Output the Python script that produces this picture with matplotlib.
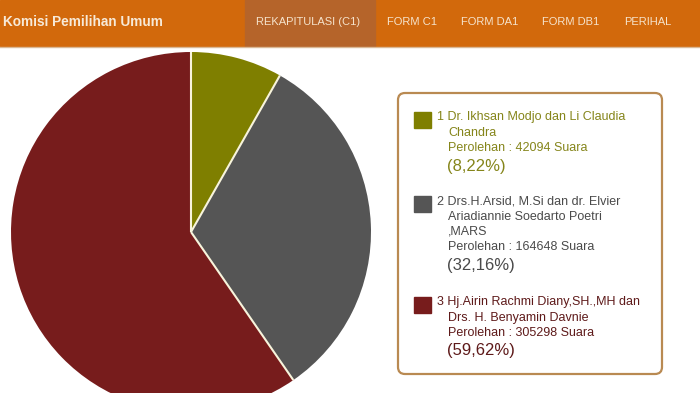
import matplotlib.pyplot as plt
import numpy as np
from matplotlib.patches import Rectangle, FancyBboxPatch

# data
nomor = ['1', '2', '3']
nama = [
    ['Dr. Ikhsan Modjo dan Li Claudia', 'Chandra'],
    ['Drs.H.Arsid, M.Si dan dr. Elvier', 'Ariadiannie Soedarto Poetri', ',MARS'],
    ['Hj.Airin Rachmi Diany,SH.,MH dan', 'Drs. H. Benyamin Davnie'],
]
suara = [42094, 164648, 305298]
warna = ['#7f7f00', '#555555', '#771c1c']
warna_teks = ['#85851a', '#4a4a4a', '#5e1a1a']

menu = ['REKAPITULASI (C1)', 'FORM C1', 'FORM DA1', 'FORM DB1', 'PERIHAL']

W, H = 700, 393
fig = plt.figure(figsize=(7, 3.93), dpi=100)
ax = fig.add_axes([0, 0, 1, 1])


def py(y):
    # pixel row (from top) -> data y
    return H - y


# pie
total = sum(suara)
cx, cy, r = 191, py(232), 180
wedges, _ = ax.pie(suara, colors=warna, startangle=90, counterclock=False,
                   center=(cx, cy), radius=r, frame=True,
                   wedgeprops=dict(edgecolor='none', linewidth=0))
# thin light separators between slices
for w in wedges:
    a = np.deg2rad(w.theta1)
    ax.plot([cx, cx + r * np.cos(a)], [cy, cy + r * np.sin(a)],
            color='#f8f4dc', lw=1.5, zorder=2, solid_capstyle='butt')
ax.set_xlim(0, W)
ax.set_ylim(0, H)
ax.axis('off')

# header bar
ax.add_patch(Rectangle((0, py(46)), W, 46, color='#d2690c', zorder=5))
ax.add_patch(Rectangle((245, py(46)), 130, 46, color='#b5642a', zorder=5))
ax.plot([0, W], [py(46.5), py(46.5)], color='#d9b896', lw=1, zorder=5)
ax.text(3, py(22), 'Komisi Pemilihan Umum', color='#f7ead8', fontsize=9.8,
        fontweight='bold', family=['Liberation Sans', 'DejaVu Sans'],
        va='center', ha='left', zorder=6)
menu_x = [256, 387, 461, 542, 624]
for m, x in zip(menu, menu_x):
    ax.text(x, py(22), m, color='#f5e3cc', fontsize=8,
            family=['Liberation Sans', 'DejaVu Sans'], va='center', ha='left', zorder=6)

# legend box
box = FancyBboxPatch((398, py(374)), 264, 281,
                     boxstyle='round,pad=0,rounding_size=7',
                     facecolor='white', edgecolor='#b98a52', lw=1.6, zorder=3)
ax.add_patch(box)

item_top = [112, 196, 297]
for i in range(3):
    top = item_top[i]
    ax.add_patch(Rectangle((414, py(top + 16)), 17, 16, color=warna[i], zorder=4))
    lines = nama[i]
    y = top + 5
    ax.text(437, py(y), nomor[i] + ' ' + lines[0], color=warna_teks[i], fontsize=9,
            family=['Liberation Sans', 'DejaVu Sans'], va='center', ha='left', zorder=4)
    for ln in lines[1:]:
        y += 15.5
        ax.text(448, py(y), ln, color=warna_teks[i], fontsize=9,
                family=['Liberation Sans', 'DejaVu Sans'], va='center', ha='left', zorder=4)
    y += 15.5
    ax.text(448, py(y), 'Perolehan : %d Suara' % suara[i], color=warna_teks[i], fontsize=9,
            family=['Liberation Sans', 'DejaVu Sans'], va='center', ha='left', zorder=4)
    y += 18
    pct = ('(%.2f%%)' % (100.0 * suara[i] / total)).replace('.', ',')
    ax.text(447, py(y), pct, color=warna_teks[i], fontsize=12,
            family=['Liberation Sans', 'DejaVu Sans'], va='center', ha='left', zorder=4)

fig.savefig('out.png', dpi=100, facecolor='white')
